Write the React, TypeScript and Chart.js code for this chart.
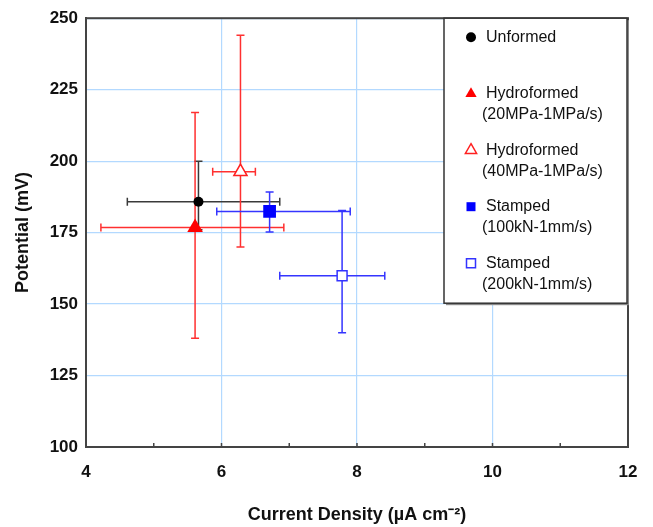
import React, { useEffect, useRef } from 'react';
import { Chart, registerables } from 'chart.js';
Chart.register(...registerables);

// ---- data ----
const seriesNames = ['Unformed', 'Hydroformed', 'Hydroformed', 'Stamped', 'Stamped'];
const seriesSubNames = ['', '(20MPa-1MPa/s)', '(40MPa-1MPa/s)', '(100kN-1mm/s)', '(200kN-1mm/s)'];
const currentDensity = [5.66, 5.61, 6.28, 6.71, 7.78];
const potential = [185.8, 176.8, 196.3, 182.4, 159.9];
const xErrLow = [4.61, 4.22, 5.87, 5.93, 6.86];
const xErrHigh = [6.86, 6.92, 6.5, 7.9, 8.41];
const yErrLow = [176, 138, 170, 175.2, 140];
const yErrHigh = [200, 217, 244, 189.2, 182.7];
const xTickValues = [4, 6, 8, 10, 12];
const yTickValues = [100, 125, 150, 175, 200, 225, 250];

// ---- styles ----
const markerColors = ['#000000', '#ff0000', '#ff2020', '#0000ff', '#3333ff'];
const errColors = ['#3a3a3a', '#ff3030', '#ff3030', '#3535ff', '#3535ff'];
const markerStyles = ['circle', 'triangle', 'triangle', 'rect', 'rect'];
const markerFilled = [true, true, false, true, false];
const markerRadius = [5, 9, 7.6, 9, 7];

const FONT = 'Arial, "Liberation Sans", Helvetica, sans-serif';

function drawSymbol(ctx: CanvasRenderingContext2D, i: number, x: number, y: number) {
  ctx.save();
  ctx.lineWidth = 1.5;
  ctx.strokeStyle = markerColors[i];
  ctx.fillStyle = markerFilled[i] ? markerColors[i] : '#ffffff';
  ctx.beginPath();
  if (markerStyles[i] === 'circle') {
    ctx.arc(x, y, 5, 0, Math.PI * 2);
  } else if (markerStyles[i] === 'triangle') {
    const r = 6.5;
    ctx.moveTo(x, y - r);
    ctx.lineTo(x + r * 0.866, y + r * 0.5);
    ctx.lineTo(x - r * 0.866, y + r * 0.5);
    ctx.closePath();
  } else {
    ctx.rect(x - 4.5, y - 4.5, 9, 9);
  }
  ctx.fill();
  if (!markerFilled[i]) ctx.stroke();
  ctx.restore();
}

const decorPlugin = {
  id: 'decor',
  beforeDatasetsDraw(chart: any) {
    const { ctx, scales } = chart;
    const xs = scales.x;
    const ys = scales.y;
    ctx.save();
    ctx.lineWidth = 1.5;
    for (let i = 0; i < currentDensity.length; i++) {
      const cx = xs.getPixelForValue(currentDensity[i]);
      const cy = ys.getPixelForValue(potential[i]);
      const x0 = xs.getPixelForValue(xErrLow[i]);
      const x1 = xs.getPixelForValue(xErrHigh[i]);
      const y0 = ys.getPixelForValue(yErrLow[i]);
      const y1 = ys.getPixelForValue(yErrHigh[i]);
      const cap = 4;
      ctx.strokeStyle = errColors[i];
      ctx.beginPath();
      ctx.moveTo(x0, cy); ctx.lineTo(x1, cy);
      ctx.moveTo(x0, cy - cap); ctx.lineTo(x0, cy + cap);
      ctx.moveTo(x1, cy - cap); ctx.lineTo(x1, cy + cap);
      ctx.moveTo(cx, y0); ctx.lineTo(cx, y1);
      ctx.moveTo(cx - cap, y0); ctx.lineTo(cx + cap, y0);
      ctx.moveTo(cx - cap, y1); ctx.lineTo(cx + cap, y1);
      ctx.stroke();
    }
    ctx.restore();
  },
  afterDraw(chart: any) {
    const { ctx, chartArea, scales } = chart;
    const { left, right, top, bottom } = chartArea;
    ctx.save();
    // frame
    ctx.strokeStyle = '#444444';
    ctx.lineWidth = 2;
    ctx.strokeRect(left, top, right - left, bottom - top);
    // inward ticks on x
    ctx.lineWidth = 1.5;
    ctx.beginPath();
    for (let v = 5; v <= 11; v++) {
      const px = scales.x.getPixelForValue(v);
      ctx.moveTo(px, bottom);
      ctx.lineTo(px, bottom - 4);
    }
    ctx.stroke();
    // legend box
    const bx = 444, by = top, bw = 183, bh = 285;
    ctx.fillStyle = '#8a8a8a';
    ctx.fillRect(bx + 2, by + 2, bw, bh);
    ctx.fillStyle = '#ffffff';
    ctx.fillRect(bx, by, bw, bh);
    ctx.strokeStyle = '#333333';
    ctx.lineWidth = 1.5;
    ctx.strokeRect(bx, by, bw, bh);
    ctx.font = '16px ' + FONT;
    ctx.textBaseline = 'middle';
    ctx.textAlign = 'left';
    for (let i = 0; i < seriesNames.length; i++) {
      const ly = by + 19 + i * 56.5;
      drawSymbol(ctx, i, 471, ly);
      ctx.fillStyle = '#111111';
      ctx.fillText(seriesNames[i], 486, ly);
      if (seriesSubNames[i]) ctx.fillText(seriesSubNames[i], 482, ly + 21);
    }
    ctx.restore();
  },
};

export default function App() {
  const ref = useRef<HTMLCanvasElement | null>(null);
  useEffect(() => {
    document.body.style.margin = '0';
    if (!ref.current) return;
    const datasets = currentDensity.map((x, i) => ({
      label: seriesNames[i] + (seriesSubNames[i] ? ' ' + seriesSubNames[i] : ''),
      data: [{ x, y: potential[i] }],
      pointStyle: markerStyles[i],
      pointRadius: markerRadius[i],
      pointBackgroundColor: markerFilled[i] ? markerColors[i] : '#ffffff',
      pointBorderColor: markerColors[i],
      pointBorderWidth: markerFilled[i] ? 0 : 1.5,
      showLine: false,
    }));
    const chart = new Chart(ref.current, {
      type: 'scatter',
      data: { datasets },
      options: {
        animation: false,
        responsive: false,
        layout: { padding: { left: 0, top: 18, right: 25, bottom: 0 } },
        plugins: { legend: { display: false }, tooltip: { enabled: false } },
        scales: {
          x: {
            type: 'linear',
            min: 4,
            max: 12,
            afterFit: (s: any) => { s.height = 80; },
            afterBuildTicks: (s: any) => { s.ticks = xTickValues.map((v) => ({ value: v })); },
            ticks: { color: '#111', font: { family: FONT, size: 17, weight: 'bold' }, padding: 15 },
            grid: { color: '#b3d9ff', lineWidth: 1.2, drawTicks: false },
            border: { color: '#444', width: 2 },
            title: {
              display: true,
              text: 'Current Density (µA cm⁻²)',
              color: '#111',
              font: { family: FONT, size: 18, weight: 'bold' },
              padding: { top: 0, bottom: 1 },
            },
          },
          y: {
            type: 'linear',
            min: 100,
            max: 250,
            afterFit: (s: any) => { s.width = 86; },
            afterBuildTicks: (s: any) => { s.ticks = yTickValues.map((v) => ({ value: v })); },
            ticks: { color: '#111', font: { family: FONT, size: 17, weight: 'bold' }, padding: 8 },
            grid: { color: '#b3d9ff', lineWidth: 1.2, drawTicks: false },
            border: { color: '#444', width: 2 },
            title: {
              display: true,
              text: 'Potential (mV)',
              color: '#111',
              font: { family: FONT, size: 18, weight: 'bold' },
              padding: { top: 12, bottom: 0 },
            },
          },
        },
      },
      plugins: [decorPlugin],
    });
    return () => chart.destroy();
  }, []);
  return (
    <div style={{ width: 653, height: 527 }}>
      <canvas ref={ref} width={653} height={527} style={{ display: 'block' }} />
    </div>
  );
}
